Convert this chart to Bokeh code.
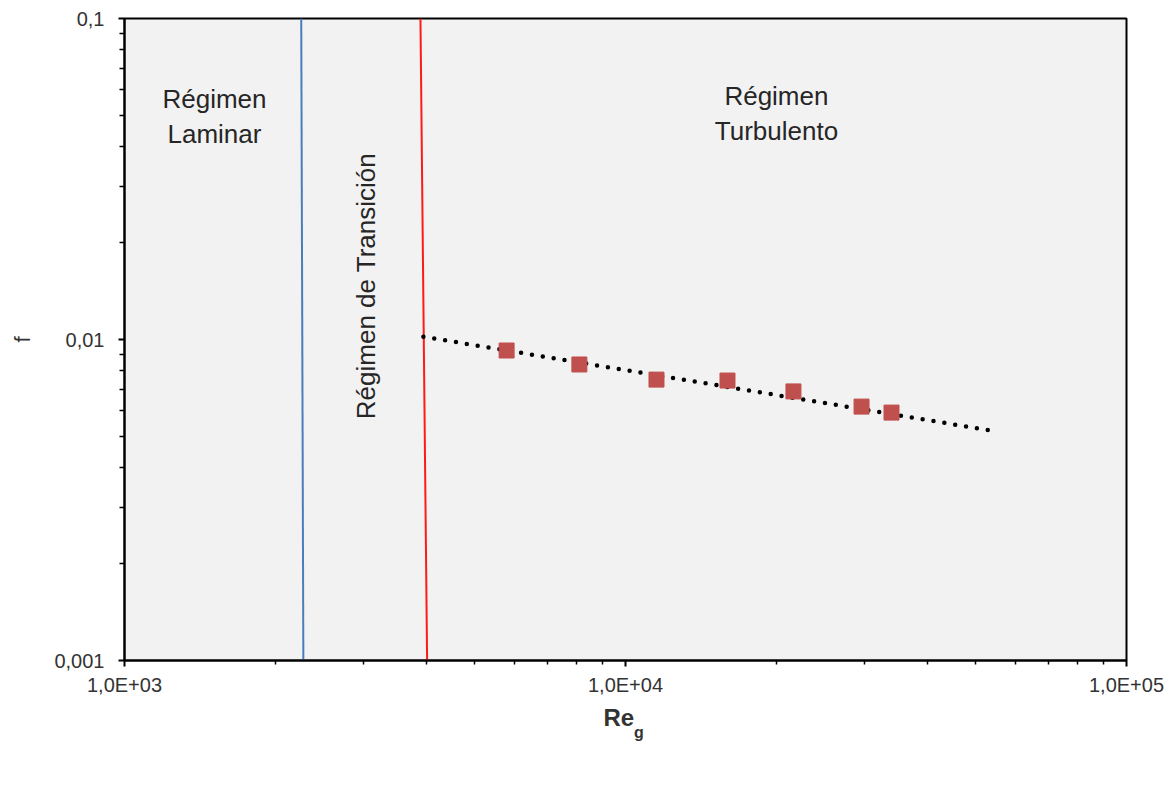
import math
from bokeh.plotting import figure
from bokeh.models import (FixedTicker, CustomJSTickFormatter, Label, Legend,
                          LegendItem, LogAxis)
from bokeh.embed import file_html
from bokeh.resources import INLINE

# ---------------- data ----------------
# theoretical friction factor (dotted line)
re_theo = [3950, 14400, 53000]
f_theo = [0.0102, 0.00731, 0.00522]

# experimental friction factor (squares)
re_exp = [5790, 8090, 11530, 15980, 21640, 29590, 33960]
f_exp = [0.00924, 0.00836, 0.00750, 0.00745, 0.00689, 0.00618, 0.00592]

# regime limits (nearly vertical lines)
re_laminar_lim = [2275, 2253]
f_laminar_lim = [0.001, 0.1]
re_trans_lim = [4018, 3897]
f_trans_lim = [0.001, 0.1]

x_major = [1e3, 1e4, 1e5]
y_major = [0.001, 0.01, 0.1]
x_minor = [m * d for d in (1e3, 1e4) for m in range(2, 10)]
y_minor = [m * d for d in (0.001, 0.01) for m in range(2, 10)]

FONT = "Liberation Sans"
TXT = "#333333"
NB = "\u00a0"

p = figure(frame_width=1002, frame_height=642,
           x_axis_type="log", y_axis_type="log",
           x_range=(1e3, 1e5), y_range=(0.001, 0.1),
           output_backend="svg", toolbar_location=None,
           min_border_left=124, min_border_right=49,
           min_border_top=18, min_border_bottom=134)
p.background_fill_color = "#F2F2F2"
p.border_fill_color = "white"
p.outline_line_color = "black"
p.outline_line_width = 2
p.xgrid.visible = False
p.ygrid.visible = False

# axes
p.xaxis.ticker = FixedTicker(ticks=x_major, minor_ticks=x_minor)
p.yaxis.ticker = FixedTicker(ticks=y_major, minor_ticks=y_minor)
p.xaxis.formatter = CustomJSTickFormatter(
    code="return tick.toExponential(1).replace('.', ',').replace('e+', 'E+0');")
p.yaxis.formatter = CustomJSTickFormatter(
    code="return String(tick).replace('.', ',');")
for ax in (p.xaxis[0], p.yaxis[0]):
    ax.axis_line_color = "black"
    ax.axis_line_width = 2
    ax.major_tick_line_color = "black"
    ax.major_tick_line_width = 2
    ax.minor_tick_line_color = "black"
    ax.minor_tick_line_width = 1.5
    ax.major_tick_in = 0
    ax.minor_tick_in = 0
    ax.major_tick_out = 6
    ax.major_label_text_font = FONT
    ax.major_label_text_font_size = "20px"
    ax.major_label_text_color = TXT
p.xaxis.minor_tick_out = 4
p.yaxis.minor_tick_out = 5
p.xaxis.major_label_standoff = 7
p.yaxis.major_label_standoff = 14
p.yaxis.axis_label = "f"
p.yaxis.axis_label_text_font = FONT
p.yaxis.axis_label_text_font_size = "22px"
p.yaxis.axis_label_text_font_style = "normal"
p.yaxis.axis_label_text_color = TXT
p.yaxis.axis_label_standoff = 16

# x axis title "Re" (main axis) + subscript "g" (extra blank axis)
p.xaxis.axis_label = "Re" + NB + NB
p.xaxis.axis_label_text_font = FONT
p.xaxis.axis_label_text_font_size = "24px"
p.xaxis.axis_label_text_font_style = "bold"
p.xaxis.axis_label_text_color = TXT
p.xaxis.axis_label_standoff = 5


def blank_axis(label, size, standoff, bold=False):
    return LogAxis(ticker=FixedTicker(ticks=[]), axis_label=label,
                   axis_line_color=None, major_tick_line_color=None,
                   minor_tick_line_color=None, major_tick_out=0,
                   minor_tick_out=0, major_tick_in=0, minor_tick_in=0,
                   major_label_standoff=0,
                   axis_label_text_font=FONT, axis_label_text_font_size=size,
                   axis_label_text_font_style="bold" if bold else "normal",
                   axis_label_text_color=TXT, axis_label_standoff=standoff)


p.add_layout(blank_axis(NB * 6 + "g", "16px", -10, bold=True), "below")

# regime limit lines
p.line(re_laminar_lim, f_laminar_lim, line_color="#4A7EBB", line_width=2)
p.line(re_trans_lim, f_trans_lim, line_color="#FF1A1A", line_width=2)

# theoretical & experimental
r_theo = p.line(re_theo, f_theo, line_color="black", line_width=4.5,
                line_dash="0 11", line_cap="round")
r_exp = p.scatter(re_exp, f_exp, marker="square", size=15,
                  fill_color="#C0504D", line_color="#C0504D")

# region labels
def add_label(x, y, text, angle=0.0):
    p.add_layout(Label(x=x, y=y, text=text, angle=angle,
                       text_align="center", text_baseline="middle",
                       text_font=FONT, text_font_size="26px",
                       text_color="#262626", text_line_height=1.15))

add_label(1512, 0.0495, "Régimen\nLaminar")
add_label(20010, 0.0506, "Régimen\nTurbulento")
add_label(3041, 0.01468, "Régimen de Transición", angle=math.pi / 2)

legend = Legend(items=[LegendItem(label="Factor teórico", renderers=[r_theo]),
                       LegendItem(label="Factor experimental" + NB * 4,
                                  renderers=[r_exp])],
                orientation="horizontal", location="top_center",
                glyph_width=60, glyph_height=34, label_standoff=13, spacing=55,
                padding=0, margin=0, border_line_color=None,
                background_fill_alpha=0,
                label_text_font=FONT, label_text_font_size="26.5px",
                label_text_color=TXT)
p.add_layout(legend, "below")

open("out.html", "w").write(file_html(p, INLINE))
